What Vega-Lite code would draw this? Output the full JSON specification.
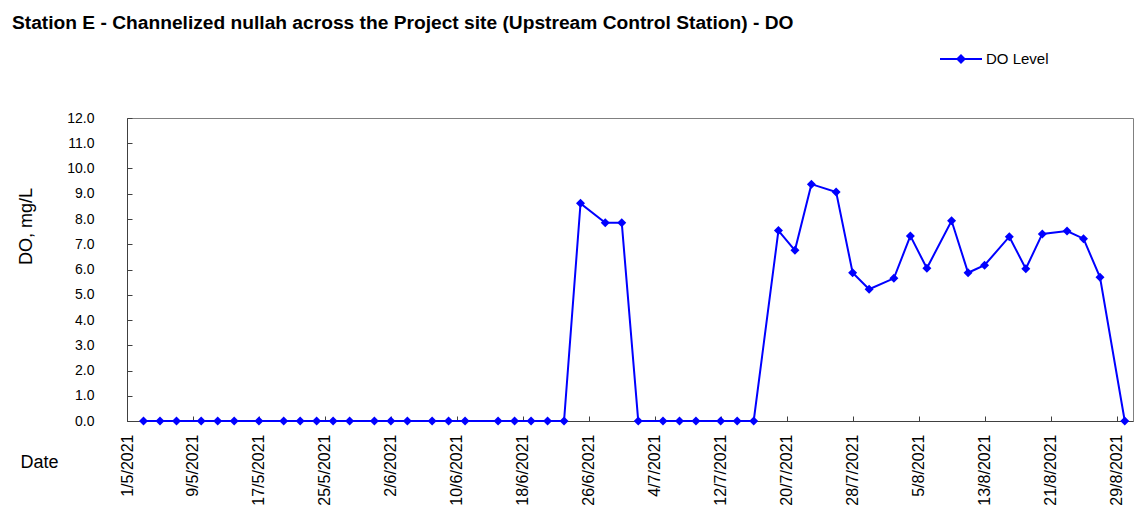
{
  "$schema": "https://vega.github.io/schema/vega-lite/v6.json",
  "autosize": {"type": "none"},
  "padding": {"left": 127, "top": 118, "right": 1, "bottom": 100},
  "width": 1006,
  "height": 303,
  "background": "white",
  "title": {
    "text": "Station E - Channelized nullah across the Project site (Upstream Control Station) - DO",
    "anchor": "start",
    "frame": "group",
    "font": "Liberation Sans",
    "fontSize": 19.2,
    "fontWeight": "bold",
    "color": "black",
    "dx": -115,
    "offset": 4
  },
  "config": {
    "view": {"stroke": "#808080", "strokeWidth": 1},
    "axis": {
      "labelFont": "Liberation Sans",
      "titleFont": "Liberation Sans",
      "labelColor": "black",
      "titleColor": "black",
      "domainColor": "#404040",
      "tickColor": "#404040",
      "grid": false
    }
  },
  "data": {
    "values": [
      {"date": "2021-05-03", "DO": 0},
      {"date": "2021-05-05", "DO": 0},
      {"date": "2021-05-07", "DO": 0},
      {"date": "2021-05-10", "DO": 0},
      {"date": "2021-05-12", "DO": 0},
      {"date": "2021-05-14", "DO": 0},
      {"date": "2021-05-17", "DO": 0},
      {"date": "2021-05-20", "DO": 0},
      {"date": "2021-05-22", "DO": 0},
      {"date": "2021-05-24", "DO": 0},
      {"date": "2021-05-26", "DO": 0},
      {"date": "2021-05-28", "DO": 0},
      {"date": "2021-05-31", "DO": 0},
      {"date": "2021-06-02", "DO": 0},
      {"date": "2021-06-04", "DO": 0},
      {"date": "2021-06-07", "DO": 0},
      {"date": "2021-06-09", "DO": 0},
      {"date": "2021-06-11", "DO": 0},
      {"date": "2021-06-15", "DO": 0},
      {"date": "2021-06-17", "DO": 0},
      {"date": "2021-06-19", "DO": 0},
      {"date": "2021-06-21", "DO": 0},
      {"date": "2021-06-23", "DO": 0},
      {"date": "2021-06-25", "DO": 8.62},
      {"date": "2021-06-28", "DO": 7.85},
      {"date": "2021-06-30", "DO": 7.85},
      {"date": "2021-07-02", "DO": 0},
      {"date": "2021-07-05", "DO": 0},
      {"date": "2021-07-07", "DO": 0},
      {"date": "2021-07-09", "DO": 0},
      {"date": "2021-07-12", "DO": 0},
      {"date": "2021-07-14", "DO": 0},
      {"date": "2021-07-16", "DO": 0},
      {"date": "2021-07-19", "DO": 7.54},
      {"date": "2021-07-21", "DO": 6.76},
      {"date": "2021-07-23", "DO": 9.38},
      {"date": "2021-07-26", "DO": 9.07},
      {"date": "2021-07-28", "DO": 5.87},
      {"date": "2021-07-30", "DO": 5.22},
      {"date": "2021-08-02", "DO": 5.65},
      {"date": "2021-08-04", "DO": 7.33},
      {"date": "2021-08-06", "DO": 6.05},
      {"date": "2021-08-09", "DO": 7.93},
      {"date": "2021-08-11", "DO": 5.87},
      {"date": "2021-08-13", "DO": 6.17},
      {"date": "2021-08-16", "DO": 7.3},
      {"date": "2021-08-18", "DO": 6.03},
      {"date": "2021-08-20", "DO": 7.41},
      {"date": "2021-08-23", "DO": 7.52},
      {"date": "2021-08-25", "DO": 7.22},
      {"date": "2021-08-27", "DO": 5.69},
      {"date": "2021-08-30", "DO": 0}
    ]
  },
  "encoding": {
    "x": {
      "field": "date",
      "type": "temporal",
      "scale": {
        "type": "utc",
        "domain": [
          {"year": 2021, "month": 5, "date": 1, "utc": true},
          {"year": 2021, "month": 8, "date": 31, "utc": true}
        ]
      },
      "axis": {
        "values": [
          {"year": 2021, "month": 5, "date": 1, "utc": true},
          {"year": 2021, "month": 5, "date": 9, "utc": true},
          {"year": 2021, "month": 5, "date": 17, "utc": true},
          {"year": 2021, "month": 5, "date": 25, "utc": true},
          {"year": 2021, "month": 6, "date": 2, "utc": true},
          {"year": 2021, "month": 6, "date": 10, "utc": true},
          {"year": 2021, "month": 6, "date": 18, "utc": true},
          {"year": 2021, "month": 6, "date": 26, "utc": true},
          {"year": 2021, "month": 7, "date": 4, "utc": true},
          {"year": 2021, "month": 7, "date": 12, "utc": true},
          {"year": 2021, "month": 7, "date": 20, "utc": true},
          {"year": 2021, "month": 7, "date": 28, "utc": true},
          {"year": 2021, "month": 8, "date": 5, "utc": true},
          {"year": 2021, "month": 8, "date": 13, "utc": true},
          {"year": 2021, "month": 8, "date": 21, "utc": true},
          {"year": 2021, "month": 8, "date": 29, "utc": true}
        ],
        "format": "%-d/%-m/%Y",
        "labelAngle": -90,
        "labelFontSize": 16,
        "labelPadding": 18,
        "tickSize": -5,
        "labelOverlap": false,
        "labelFlush": false,
        "title": "Date",
        "titleFontSize": 18,
        "titleFontWeight": "normal",
        "titleAngle": 0,
        "titleAlign": "left",
        "titleBaseline": "middle",
        "titleX": -107,
        "titleY": 41
      }
    },
    "y": {
      "field": "DO",
      "type": "quantitative",
      "scale": {"domain": [0, 12], "nice": false, "zero": true},
      "axis": {
        "values": [0, 1, 2, 3, 4, 5, 6, 7, 8, 9, 10, 11, 12],
        "format": ".1f",
        "labelFontSize": 14,
        "labelPadding": 38,
        "tickSize": -5,
        "labelOverlap": false,
        "labelFlush": false,
        "title": "DO, mg/L",
        "titleFontSize": 18,
        "titleFontWeight": "normal",
        "titleAngle": -90,
        "titleAlign": "center",
        "titleBaseline": "middle",
        "titleX": -101,
        "titleY": 108
      }
    },
    "color": {
      "datum": "DO Level",
      "type": "nominal",
      "scale": {"range": ["#0000FF"]},
      "legend": {
        "title": null,
        "orient": "none",
        "legendX": 812,
        "legendY": -81,
        "padding": 0,
        "symbolType": "M-1,0L1,0M-0.17,0L0,-0.17L0.17,0L0,0.17Z",
        "symbolSize": 1764,
        "symbolFillColor": "#0000FF",
        "symbolStrokeColor": "#0000FF",
        "symbolStrokeWidth": 2,
        "symbolOpacity": 1,
        "labelFont": "Liberation Sans",
        "labelFontSize": 15,
        "labelColor": "black",
        "labelOffset": 3
      }
    }
  },
  "layer": [
    {"mark": {"type": "line", "strokeWidth": 2, "clip": false}},
    {"mark": {"type": "point", "shape": "diamond", "filled": true, "size": 81, "opacity": 1, "clip": false}}
  ]
}
